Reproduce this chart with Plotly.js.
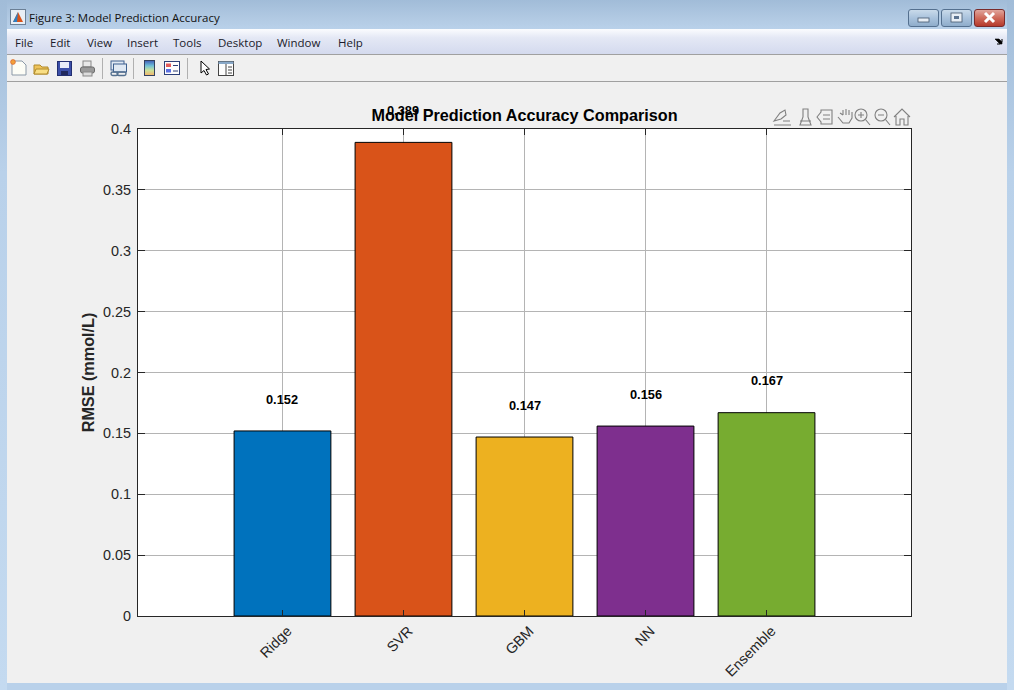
<!DOCTYPE html>
<html>
<head>
<meta charset="utf-8">
<script src="https://cdn.plot.ly/plotly-3.0.1.min.js"></script>
<style>
html,body{margin:0;padding:0;width:1014px;height:690px;overflow:hidden;background:#b9d1ea;font-family:"Open Sans","Noto Sans",sans-serif;}
#titlebar{position:absolute;left:0;top:0;width:1014px;height:29px;background:linear-gradient(#a1bcd8,#b3cbe4 70%,#b9d1ea);}
#frame-l{position:absolute;left:0;top:0;width:7px;height:690px;background:linear-gradient(#a1bcd8,#b9d1ea 25%,#c4daf0);}
#frame-r{position:absolute;left:1007px;top:0;width:7px;height:690px;background:linear-gradient(#a1bcd8,#b9d1ea 25%,#c4daf0);}
#wintitle{position:absolute;left:29px;top:9px;font-size:11.5px;line-height:17px;color:#111;}
#menubar{position:absolute;left:7px;top:29px;width:1000px;height:25px;background:linear-gradient(#fbfcfe,#e4e8f5 35%,#d4daee);border-bottom:1px solid #a0a0a0;}
#toolbar{position:absolute;left:7px;top:55px;width:1000px;height:26px;background:#f0f0f0;border-bottom:1px solid #a0a0a0;}
#content{position:absolute;left:7px;top:82px;width:1000px;height:601px;background:#f0f0f0;}
.mi{position:absolute;top:34px;font-size:11.5px;line-height:17px;color:#1a1a2a;}
.btn{position:absolute;top:9px;height:16px;border:1px solid #54708f;border-radius:3px;background:linear-gradient(#c9daea,#a9c2dc 50%,#8fadcb);}
.sep{position:absolute;top:58px;width:1px;height:21px;background:#b0b0b0;}
svg.ic{position:absolute;overflow:visible;}
#chart{position:absolute;left:0;top:0;width:1014px;height:690px;}
</style>
</head>
<body>
<div id="titlebar"></div><div id="frame-l"></div><div id="frame-r"></div>
<div id="menubar"></div><div id="toolbar"></div><div id="content"></div>

<svg class="ic" style="left:10px;top:9px" width="16" height="16"><rect x="0.5" y="0.5" width="15" height="15" fill="#e8eef5" stroke="#6b7f95"/><path d="M8 3 L13 13 H3 Z" fill="#d9541a"/><path d="M8 3 L3 13 H7 Z" fill="#2f7fc1"/></svg>
<div id="wintitle">Figure 3: Model Prediction Accuracy</div>

<div class="btn" style="left:908px;width:29px"></div>
<div class="btn" style="left:941px;width:29px"></div>
<div class="btn" style="left:974px;width:29px;border-color:#7a2a2a;background:linear-gradient(#e0a59c,#cf6a5a 50%,#b53a2c)"></div>
<svg class="ic" style="left:908px;top:9px" width="96" height="18">
<rect x="10" y="9" width="11" height="4" fill="#e8eef5" stroke="#43556b" stroke-width="0.8"/>
<rect x="43" y="4" width="11" height="9" fill="#e8eef5" stroke="#43556b" stroke-width="0.8"/><rect x="46" y="7" width="5" height="3" fill="#5c7390"/>
<path d="M77 4 L86 13 M86 4 L77 13" stroke="#fff" stroke-width="3"/>
</svg>

<div class="mi" style="left:15px">File</div>
<div class="mi" style="left:50px">Edit</div>
<div class="mi" style="left:87px">View</div>
<div class="mi" style="left:127px">Insert</div>
<div class="mi" style="left:173px">Tools</div>
<div class="mi" style="left:218px">Desktop</div>
<div class="mi" style="left:277px">Window</div>
<div class="mi" style="left:338px">Help</div>
<svg class="ic" style="left:995px;top:39px" width="8" height="6"><path d="M0 0 L4 0 L7 3 L7 0 L7 5 L2 5 L5 5 L2 2 Z" fill="#000" stroke="#000" stroke-width="0.6"/></svg>

<!-- figure toolbar -->
<svg class="ic" style="left:10px;top:59px" width="240" height="18">
<path d="M2 2 H12 L16 6 V16 H2 Z" fill="#fdfdf6" stroke="#8b99a8"/><circle cx="3" cy="3" r="2.4" fill="#f2a13a" stroke="#d8602a" stroke-width="0.7"/>
<path d="M24 6 H30 L32 8 H38 V15 H24 Z" fill="#eec35a" stroke="#b08a2a"/><path d="M24 15 L26 10 H39 L37 15 Z" fill="#f9de83" stroke="#b08a2a"/>
<rect x="47.5" y="2.5" width="14" height="14" fill="#3c4fa8" stroke="#232f70"/><rect x="50" y="3" width="9" height="6" fill="#e8ecf8"/><rect x="51" y="12" width="7" height="4" fill="#20285c"/>
<rect x="73" y="2" width="8" height="6" fill="#e8e8e8" stroke="#888"/><rect x="70.5" y="8" width="14" height="6" rx="2" fill="#9a9a9a" stroke="#6a6a6a"/><rect x="73" y="13" width="9" height="4" fill="#dcdcdc" stroke="#888"/>
<rect x="101" y="2" width="13" height="9" fill="#dfe8f3" stroke="#3c5f8f"/><rect x="103.5" y="5" width="13" height="8" fill="#dfe8f3" stroke="#3c5f8f"/><rect x="101" y="13" width="7" height="3.5" rx="1.7" fill="none" stroke="#54708f" stroke-width="1.4"/><rect x="107" y="13" width="9" height="3.5" rx="1.7" fill="none" stroke="#54708f" stroke-width="1.4"/>
<defs><linearGradient id="cb" x1="0" y1="0" x2="0" y2="1"><stop offset="0" stop-color="#3f5bb5"/><stop offset="0.35" stop-color="#6fc0d8"/><stop offset="0.65" stop-color="#c9e29a"/><stop offset="1" stop-color="#f4b36a"/></linearGradient></defs>
<rect x="134.5" y="1.5" width="10" height="15" fill="url(#cb)" stroke="#33415f"/>
<rect x="154.5" y="2.5" width="15" height="13" fill="#fdfdfd" stroke="#2c3f77"/><rect x="156" y="4.5" width="5" height="3.5" fill="#e25a5a"/><rect x="156" y="10" width="5" height="3.5" fill="#5a6fe2"/><path d="M163 6.5 H168 M163 12 H168" stroke="#2c3f77"/>
<path d="M191 2 V14 L194 11.5 L196.5 16 L198.5 15 L196 10.5 L199.5 10 Z" fill="#fff" stroke="#000"/>
<rect x="208.5" y="2.5" width="15" height="14" fill="#fdfdfd" stroke="#444"/><rect x="208.5" y="2.5" width="15" height="2.5" fill="#88a8c8"/><path d="M216 5 V16.5" stroke="#444"/><path d="M218 8 H222 M218 11 H222 M218 14 H222" stroke="#444"/>
</svg>
<div class="sep" style="left:102px"></div><div class="sep" style="left:133px"></div><div class="sep" style="left:187px"></div>

<div id="chart"></div>

<!-- axes toolbar -->
<svg class="ic" style="left:773px;top:107px;z-index:5" width="140" height="20" fill="none" stroke="#808080" stroke-width="1.1">
<path d="M1 14 L7 6 L12 3 L13 8 L8 12 Z M1 18 H18 M10 14 H17"/>
<path d="M27 18 L30 10 V2 H35 V10 L38 18 Z M27 14 H38"/>
<path d="M44 10 L48 5 V3 H59 V17 H48 V15 Z M50 8 H57 M50 12 H57"/>
<path d="M65 10 L70 16 H76 L79 11 V5 M76 8 V3 M73 8 V2 M70 8 V3 M70 8 L67 6"/>
<circle cx="88" cy="8" r="6"/><path d="M92.5 12.5 L97 18 M85 8 H91 M88 5 V11"/>
<circle cx="108" cy="8" r="6"/><path d="M112.5 12.5 L117 18 M105 8 H111"/>
<path d="M121 10 L129 2 L137 10 M123 9 V18 H127 V12 H131 V18 H135 V9"/>
</svg>

<script>
var categories = ['Ridge', 'SVR', 'GBM', 'NN', 'Ensemble'];
var rmse = [0.152, 0.389, 0.147, 0.156, 0.167];
var rmseLabels = ['0.152', '0.389', '0.147', '0.156', '0.167'];
var barColors = ['#0072BD', '#D95319', '#EDB120', '#7E2F8E', '#77AC30'];
var yTicks = [0, 0.05, 0.1, 0.15, 0.2, 0.25, 0.3, 0.35, 0.4];
var yTickLabels = ['0', '0.05', '0.1', '0.15', '0.2', '0.25', '0.3', '0.35', '0.4'];
var yMax = 0.4;
var labelOffset = 0.0262;

var font = '"Liberation Sans", Arial, sans-serif';
var axisColor = '#262626';
var positions = categories.map(function (c, i) { return i; });

var bars = {
  type: 'bar',
  x: positions,
  y: rmse,
  width: 0.8,
  marker: {color: barColors, line: {color: '#000', width: 1}},
  hoverinfo: 'none'
};
var valueLabels = rmse.map(function (v, i) {
  return {
    xref: 'x', x: positions[i],
    yref: 'paper', y: (v + labelOffset) / yMax,
    text: '<b>' + rmseLabels[i] + '</b>',
    showarrow: false,
    xanchor: 'center', yanchor: 'middle',
    font: {family: font, size: 12.8, color: '#000'}
  };
});
var layout = {
  width: 1014,
  height: 690,
  autosize: false,
  showlegend: false,
  paper_bgcolor: 'rgba(0,0,0,0)',
  plot_bgcolor: '#fff',
  margin: {l: 138, r: 103, t: 129, b: 74, pad: 0},
  title: {
    text: '<b>Model Prediction Accuracy Comparison</b>',
    font: {family: font, size: 16.2, color: '#000'},
    x: 524.5 / 1014, xanchor: 'center',
    y: 1 - 115.5 / 690, yanchor: 'middle'
  },
  annotations: valueLabels,
  xaxis: {
    range: [-1.194, 5.194],
    tickmode: 'array',
    tickvals: positions,
    ticktext: categories,
    tickangle: -45,
    ticklabelshift: 5,
    ticks: 'inside', ticklen: 6, tickwidth: 1, tickcolor: axisColor,
    showline: true, linecolor: axisColor, linewidth: 1, mirror: 'ticks',
    showgrid: true, gridcolor: '#b4b4b4', gridwidth: 1,
    zeroline: false,
    tickfont: {family: font, size: 14.4, color: axisColor}
  },
  yaxis: {
    range: [0, yMax],
    tickmode: 'array',
    tickvals: yTicks,
    ticktext: yTickLabels,
    ticklabelstandoff: 3,
    ticks: 'inside', ticklen: 7, tickwidth: 1, tickcolor: axisColor,
    showline: true, linecolor: axisColor, linewidth: 1, mirror: 'ticks',
    showgrid: true, gridcolor: '#b4b4b4', gridwidth: 1,
    zeroline: false,
    automargin: true,
    tickfont: {family: font, size: 14.4, color: axisColor},
    title: {
      text: '<b>RMSE (mmol/L)</b>',
      font: {family: font, size: 16.2, color: axisColor},
      standoff: 4
    }
  }
};
Plotly.newPlot('chart', [bars], layout, {displayModeBar: false, staticPlot: true});
</script>
</body>
</html>
